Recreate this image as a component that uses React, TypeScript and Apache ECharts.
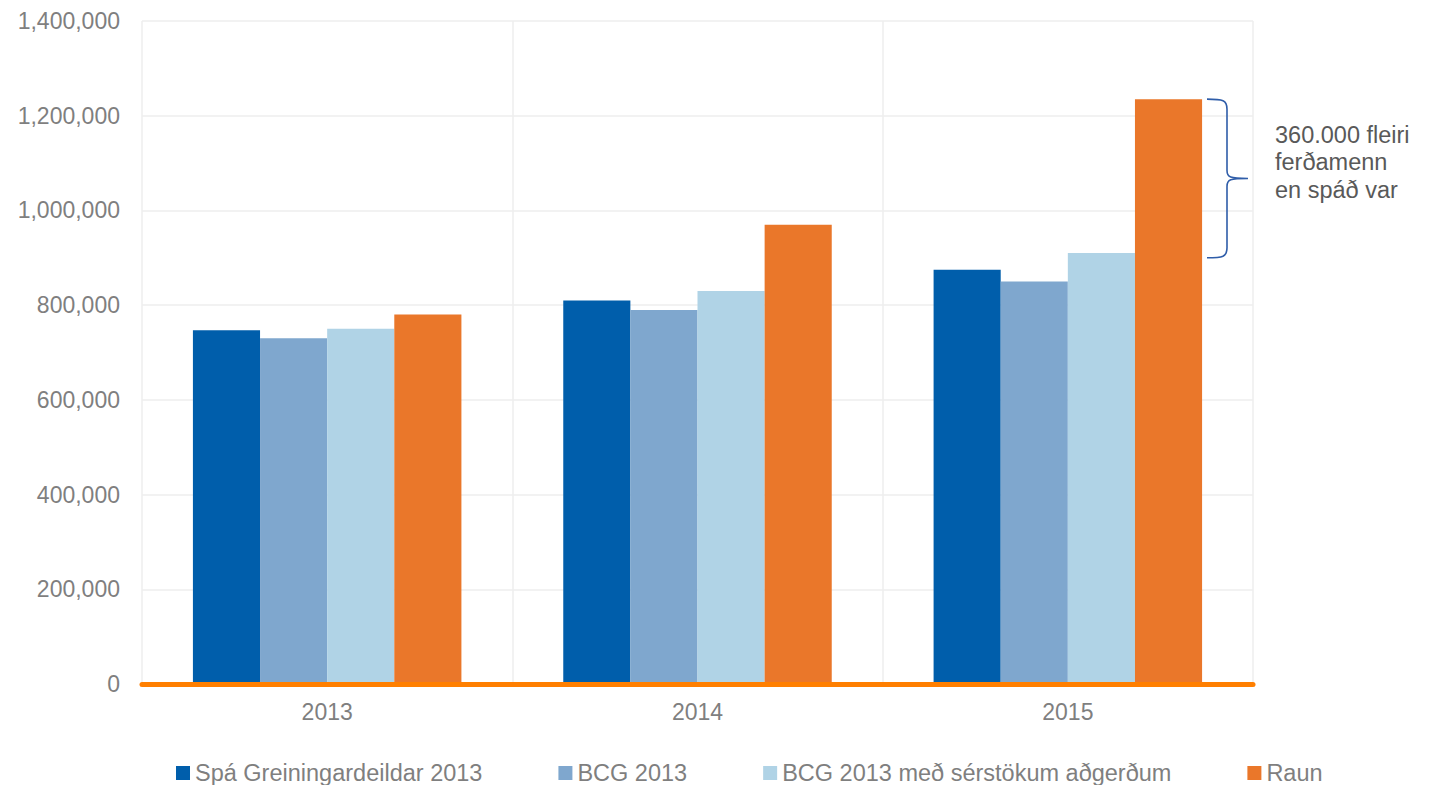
import React, { useEffect, useRef } from "react";
import * as echarts from "echarts";

const categories = ["2013", "2014", "2015"];
const seriesNames = [
  "Spá Greiningardeildar 2013",
  "BCG 2013",
  "BCG 2013 með sérstökum aðgerðum",
  "Raun",
];
const spaGreiningardeildar = [747000, 810000, 875000];
const bcg2013 = [730000, 790000, 850000];
const bcgAdgerdir = [750000, 830000, 910000];
const raun = [780000, 970000, 1235000];
const yTicks = [0, 200000, 400000, 600000, 800000, 1000000, 1200000, 1400000];
const braceTopValue = raun[2];
const braceBottomValue = 900000;
const annotationLines = ["360.000 fleiri", "ferðamenn", "en spáð var"];

const colors = ["#005EAB", "#7FA7CE", "#B0D3E6", "#EA772A"];
const FONT = "'Liberation Sans', Arial, sans-serif";

let braceRegistered = false;
function registerBrace() {
  if (braceRegistered) return;
  braceRegistered = true;
  const Brace = (echarts.graphic as any).extendShape({
    type: "brace",
    shape: { x0: 0, xm: 0, xt: 0, y1: 0, y2: 0 },
    buildPath(ctx: any, s: any) {
      const ym = (s.y1 + s.y2) / 2;
      ctx.moveTo(s.x0, s.y1);
      ctx.bezierCurveTo(s.xm - 4, s.y1, s.xm, s.y1 + 1, s.xm, s.y1 + 10);
      ctx.lineTo(s.xm, ym - 8);
      ctx.bezierCurveTo(s.xm, ym - 1, s.xm + 3, ym, s.xt, ym);
      ctx.moveTo(s.xt, ym);
      ctx.bezierCurveTo(s.xm + 3, ym, s.xm, ym + 1, s.xm, ym + 8);
      ctx.lineTo(s.xm, s.y2 - 10);
      ctx.bezierCurveTo(s.xm, s.y2 - 1, s.xm - 4, s.y2, s.x0, s.y2);
    },
  });
  (echarts.graphic as any).registerShape("brace", Brace);
}

export default function App() {
  const ref = useRef<HTMLDivElement>(null);
  useEffect(() => {
    if (!ref.current) return;
    registerBrace();
    const chart = echarts.init(ref.current, undefined, { renderer: "svg" });
    const seriesData = [spaGreiningardeildar, bcg2013, bcgAdgerdir, raun];
    chart.setOption({
      animation: false,
      textStyle: { fontFamily: FONT },
      grid: { left: 142, right: 178, top: 21, bottom: 101 },
      legend: {
        left: 176,
        top: 761,
        padding: 0,
        itemWidth: 14,
        itemHeight: 14,
        itemGap: 76,
        icon: "rect",
        textStyle: { fontSize: 23.5, lineHeight: 24, color: "#7F7F7F", fontFamily: FONT },
        data: seriesNames,
      },
      xAxis: {
        type: "category",
        data: categories,
        z: 10,
        axisLine: { show: true, lineStyle: { color: "#FF7F00", width: 5 } },
        axisTick: { show: false },
        axisLabel: { fontSize: 23, color: "#7F7F7F", margin: 16, fontFamily: FONT },
        splitLine: { show: true, lineStyle: { color: "#EEEEEE", width: 1.5 } },
      },
      yAxis: {
        type: "value",
        min: yTicks[0],
        max: yTicks[yTicks.length - 1],
        interval: yTicks[1] - yTicks[0],
        axisLine: { show: false },
        axisTick: { show: false },
        axisLabel: {
          fontSize: 23,
          color: "#7F7F7F",
          margin: 22,
          fontFamily: FONT,
          formatter: (v: number) => v.toLocaleString("en-US"),
        },
        splitLine: { show: true, lineStyle: { color: "#EEEEEE", width: 1.5 } },
      },
      series: seriesNames.map((name, i) => ({
        name,
        type: "bar",
        data: seriesData[i],
        barGap: "0%",
        barCategoryGap: "27.5%",
        itemStyle: { color: colors[i] },
      })),
    });

    const yTop = chart.convertToPixel({ yAxisIndex: 0 }, braceTopValue) as number;
    const yBot = chart.convertToPixel({ yAxisIndex: 0 }, braceBottomValue) as number;
    const yMid = (yTop + yBot) / 2;
    chart.setOption({
      graphic: [
        {
          type: "brace",
          shape: { x0: 1207, xm: 1227, xt: 1248, y1: yTop, y2: yBot },
          style: { stroke: "#2F5DA9", fill: null, lineWidth: 1.6 },
          z: 20,
        },
        {
          type: "text",
          x: 1275,
          y: yMid - 16,
          style: {
            text: annotationLines.join("\n"),
            fontSize: 23.5,
            lineHeight: 27.5,
            fill: "#595959",
            fontFamily: FONT,
            verticalAlign: "middle",
            align: "left",
          },
          z: 20,
        },
      ],
    });
    return () => chart.dispose();
  }, []);
  return (
    <div
      ref={ref}
      style={{ position: "fixed", left: 0, top: 0, width: 1431, height: 785, background: "#ffffff" }}
    />
  );
}
